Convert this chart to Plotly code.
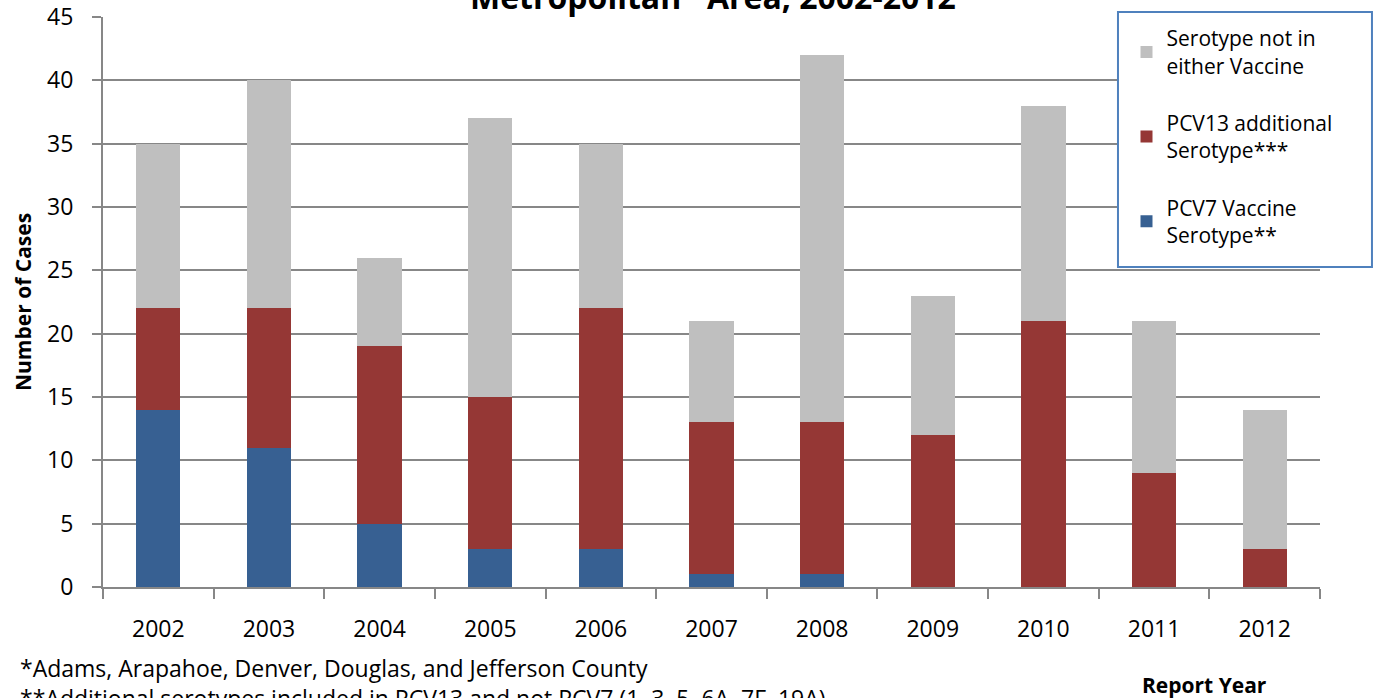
import plotly.graph_objects as go

years = ["2002", "2003", "2004", "2005", "2006", "2007", "2008", "2009", "2010", "2011", "2012"]
pcv7 = [14, 11, 5, 3, 3, 1, 1, 0, 0, 0, 0]
pcv13_additional = [8, 11, 14, 12, 19, 12, 12, 12, 21, 9, 3]
not_in_vaccine = [13, 18, 7, 22, 13, 8, 29, 11, 17, 12, 11]

series_names = [
    "PCV7 Vaccine<br>Serotype**",
    "PCV13 additional<br>Serotype***",
    "Serotype not in<br>either Vaccine",
]
series_colors = ["#376092", "#953735", "#BFBFBF"]
series_values = [pcv7, pcv13_additional, not_in_vaccine]
legend_ranks = [3, 2, 1]

FONT = "Open Sans"
GRID = "#878787"

fig = go.Figure()
for i, (name, vals, col) in enumerate(zip(series_names, series_values, series_colors)):
    fig.add_trace(go.Bar(
        x=years, y=vals, name=name, marker=dict(color=col, line=dict(width=0)),
        legendgroup=f"g{i}", legendrank=legend_ranks[i],
    ))

fig.update_layout(
    width=1376, height=698,
    margin=dict(l=103, r=56, t=17, b=111, autoexpand=False),
    barmode="stack", bargap=0.6,
    plot_bgcolor="white", paper_bgcolor="white",
    font=dict(family=FONT, size=20, color="#000000"),
    showlegend=True,
    legend=dict(
        x=0.841, y=0.998, xanchor="left", yanchor="top",
        bgcolor="rgba(0,0,0,0)", borderwidth=0,
        traceorder="grouped", tracegroupgap=27,
        font=dict(family=FONT, size=21, color="#000000"),
    ),
    xaxis=dict(
        type="category", showgrid=False, showline=True, linecolor=GRID, linewidth=2,
        ticks="outside", tickson="boundaries", ticklen=10, tickwidth=2, tickcolor=GRID,
        ticklabelstandoff=20, tickfont=dict(size=23),
    ),
    yaxis=dict(
        range=[0, 45], dtick=5, showgrid=True, gridcolor=GRID, gridwidth=1.5,
        showline=True, linecolor=GRID, linewidth=2, zeroline=False,
        ticks="outside", ticklen=9, tickwidth=2, tickcolor=GRID,
        ticklabelstandoff=14, tickfont=dict(size=23),
    ),
    shapes=[
        # legend frame
        dict(type="rect", xref="paper", yref="paper", x0=0.834, x1=1.0427,
             y0=0.5614, y1=1.0088, fillcolor="white",
             line=dict(color="#4F81BD", width=2), layer="above"),
    ],
    annotations=[
        dict(text="<b>Metropolitan* Area, 2002-2012</b>", xref="paper", yref="paper",
             x=(713 - 103) / 1217, y=1.0, yshift=-3, xanchor="center", yanchor="bottom",
             showarrow=False, font=dict(size=32)),
        dict(text="<b>Number of Cases</b>", xref="paper", yref="paper",
             x=0, y=0.5, xshift=-80, textangle=-90, xanchor="center", yanchor="middle",
             showarrow=False, font=dict(size=21)),
        dict(text="*Adams, Arapahoe, Denver, Douglas, and Jefferson County",
             xref="paper", yref="paper", x=0, y=0, xshift=-85, yshift=-81,
             xanchor="left", yanchor="middle", showarrow=False, font=dict(size=23)),
        dict(text="**Additional serotypes included in PCV13 and not PCV7 (1, 3, 5, 6A, 7F, 19A)",
             xref="paper", yref="paper", x=0, y=0, xshift=-85, yshift=-111,
             xanchor="left", yanchor="middle", showarrow=False, font=dict(size=23)),
        dict(text="<b>Report Year</b>", xref="paper", yref="paper",
             x=(1204 - 103) / 1217, y=0, yshift=-98, xanchor="center", yanchor="middle",
             showarrow=False, font=dict(size=21)),
    ],
)

fig.write_html("out.html")
